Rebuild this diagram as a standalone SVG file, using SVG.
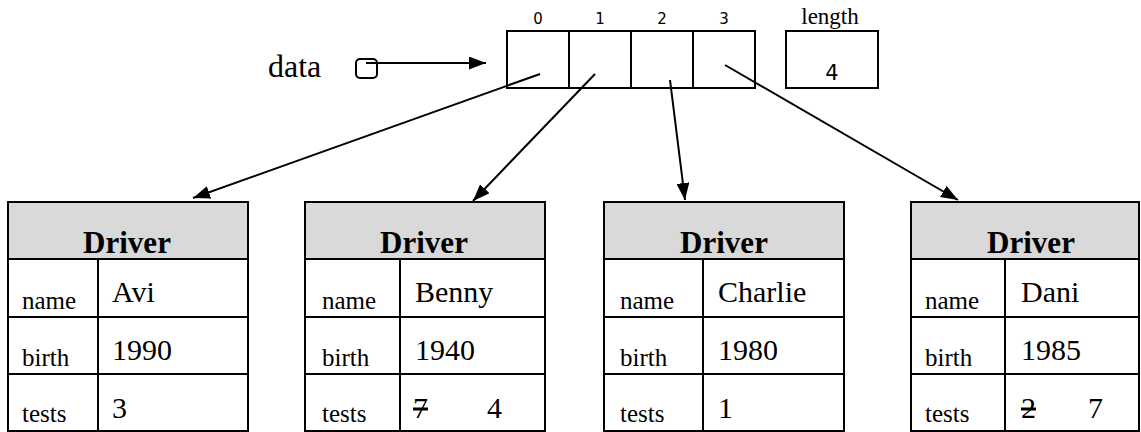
<svg xmlns="http://www.w3.org/2000/svg" width="1141" height="432" viewBox="0 0 1141 432">
<style>
.ln{stroke:#000;stroke-width:2;fill:none}
.box{stroke:#000;stroke-width:2;fill:#fff}
.hdr{stroke:#000;stroke-width:2;fill:#d9d9d9}
.t{font-family:"Liberation Serif","Times New Roman",serif;fill:#000}
.lbl{font-size:25px}
.val{font-size:30px}
.ttl{font-size:31px;font-weight:bold}
.idx{font-family:"DejaVu Sans",sans-serif;font-size:15px;fill:#000}
.con{stroke:#000;stroke-width:2;fill:none}
</style>
<defs>
<marker id="ah" viewBox="0 0 10 10" refX="10" refY="5" markerWidth="17" markerHeight="13" markerUnits="userSpaceOnUse" orient="auto" preserveAspectRatio="none">
<path d="M0,0 L10,5 L0,10 z" fill="#000"/>
</marker>
</defs>
<rect width="1141" height="432" fill="#fff"/>

<g id="data">
<text class="t" x="268" y="77" style="font-size:32px">data</text>
<rect x="356" y="59" width="21" height="19" rx="4" class="box"/>
</g>

<g id="array">
<rect x="507" y="31" width="248" height="57" class="box"/>
<line x1="569" y1="31" x2="569" y2="88" class="ln"/>
<line x1="631" y1="31" x2="631" y2="88" class="ln"/>
<line x1="693" y1="31" x2="693" y2="88" class="ln"/>
<text class="idx" x="538" y="24" text-anchor="middle">0</text>
<text class="idx" x="600" y="24" text-anchor="middle">1</text>
<text class="idx" x="662" y="24" text-anchor="middle">2</text>
<text class="idx" x="724" y="24" text-anchor="middle">3</text>
</g>

<g id="length">
<rect x="786" y="31" width="92" height="57" class="box"/>
<text class="t" x="830" y="24" style="font-size:23px" text-anchor="middle">length</text>
<text class="idx" x="832" y="80" style="font-size:21px" text-anchor="middle">4</text>
</g>

<g id="driver-avi">
<rect x="8" y="202" width="240" height="57" class="hdr"/>
<rect x="8" y="259" width="240" height="172" class="box"/>
<line x1="8" y1="317" x2="248" y2="317" class="ln"/>
<line x1="8" y1="374" x2="248" y2="374" class="ln"/>
<line x1="98" y1="259" x2="98" y2="431" class="ln"/>
<text class="t ttl" x="127" y="253" text-anchor="middle">Driver</text>
<text class="t lbl" x="22" y="309">name</text>
<text class="t val" x="112" y="302">Avi</text>
<text class="t lbl" x="22" y="366">birth</text>
<text class="t val" x="112" y="360">1990</text>
<text class="t lbl" x="22" y="422">tests</text>
<text class="t val" x="112" y="418">3</text>
</g>

<g id="driver-benny">
<rect x="305" y="202" width="240" height="57" class="hdr"/>
<rect x="305" y="259" width="240" height="172" class="box"/>
<line x1="305" y1="317" x2="545" y2="317" class="ln"/>
<line x1="305" y1="374" x2="545" y2="374" class="ln"/>
<line x1="400" y1="259" x2="400" y2="431" class="ln"/>
<text class="t ttl" x="424" y="253" text-anchor="middle">Driver</text>
<text class="t lbl" x="322" y="309">name</text>
<text class="t val" x="415" y="302">Benny</text>
<text class="t lbl" x="322" y="366">birth</text>
<text class="t val" x="415" y="360">1940</text>
<text class="t lbl" x="322" y="422">tests</text>
<text class="t val" x="413" y="418" text-decoration="line-through">7</text>
<text class="t val" x="487" y="418">4</text>
</g>

<g id="driver-charlie">
<rect x="604" y="202" width="240" height="57" class="hdr"/>
<rect x="604" y="259" width="240" height="172" class="box"/>
<line x1="604" y1="317" x2="844" y2="317" class="ln"/>
<line x1="604" y1="374" x2="844" y2="374" class="ln"/>
<line x1="703" y1="259" x2="703" y2="431" class="ln"/>
<text class="t ttl" x="724" y="253" text-anchor="middle">Driver</text>
<text class="t lbl" x="620" y="309">name</text>
<text class="t val" x="718" y="302">Charlie</text>
<text class="t lbl" x="620" y="366">birth</text>
<text class="t val" x="718" y="360">1980</text>
<text class="t lbl" x="620" y="422">tests</text>
<text class="t val" x="718" y="418">1</text>
</g>

<g id="driver-dani">
<rect x="911" y="202" width="228" height="57" class="hdr"/>
<rect x="911" y="259" width="228" height="172" class="box"/>
<line x1="911" y1="317" x2="1139" y2="317" class="ln"/>
<line x1="911" y1="374" x2="1139" y2="374" class="ln"/>
<line x1="1005" y1="259" x2="1005" y2="431" class="ln"/>
<text class="t ttl" x="1031" y="253" text-anchor="middle">Driver</text>
<text class="t lbl" x="925" y="309">name</text>
<text class="t val" x="1021" y="302">Dani</text>
<text class="t lbl" x="925" y="366">birth</text>
<text class="t val" x="1021" y="360">1985</text>
<text class="t lbl" x="925" y="422">tests</text>
<text class="t val" x="1021" y="418" text-decoration="line-through">2</text>
<text class="t val" x="1088" y="418">7</text>
</g>

<g id="connectors">
<line x1="366" y1="63" x2="486" y2="63" class="con" marker-end="url(#ah)"/>
<line x1="540" y1="74" x2="193" y2="198" class="con" marker-end="url(#ah)"/>
<line x1="595" y1="74" x2="473" y2="201" class="con" marker-end="url(#ah)"/>
<line x1="670" y1="80" x2="685" y2="200" class="con" marker-end="url(#ah)"/>
<line x1="725" y1="65" x2="958" y2="200" class="con" marker-end="url(#ah)"/>
</g>
</svg>
